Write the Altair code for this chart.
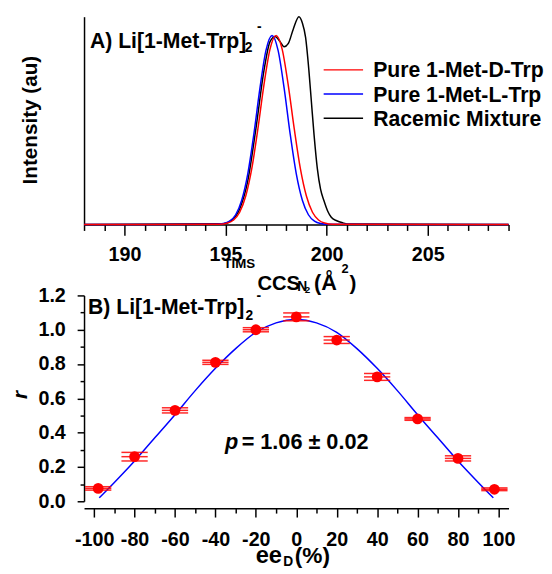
import altair as alt
import pandas as pd

# ---------------- Panel A: mobility spectra ----------------
ccs_D = [188, 194.7, 195.1, 195.4, 195.7, 196.0, 196.3, 196.6, 196.9, 197.2, 197.5, 197.8, 198.1,
         198.4, 198.7, 199.0, 199.3, 199.6, 199.9, 200.3, 209]
int_D = [0, 0.001, 0.007, 0.022, 0.059, 0.137, 0.270, 0.460, 0.672, 0.844, 0.91, 0.844, 0.672,
         0.460, 0.270, 0.137, 0.059, 0.022, 0.007, 0.001, 0]

ccs_L = [188, 194.5, 194.9, 195.2, 195.5, 195.8, 196.1, 196.4, 196.7, 197.0, 197.3, 197.6, 197.9,
         198.2, 198.5, 198.8, 199.1, 199.4, 199.7, 200.1, 209]
int_L = [0, 0.001, 0.005, 0.016, 0.047, 0.117, 0.244, 0.434, 0.655, 0.838, 0.91, 0.838, 0.655,
         0.434, 0.244, 0.117, 0.047, 0.016, 0.005, 0.001, 0]

ccs_rac = [188, 194.9, 195.3, 195.7, 196.1, 196.5, 196.9, 197.2, 197.45, 197.7, 197.9, 198.1, 198.35,
           198.63, 198.8, 198.96, 199.12, 199.25, 199.38, 199.54, 199.7, 199.87, 200.05, 200.23,
           200.5, 200.8, 201.15, 209]
int_rac = [0, 0.004, 0.02, 0.075, 0.21, 0.46, 0.74, 0.88, 0.905, 0.88, 0.855, 0.87, 0.94,
           1.0, 0.97, 0.90, 0.745, 0.587, 0.43, 0.27, 0.17, 0.114, 0.065, 0.035,
           0.018, 0.008, 0.002, 0]

legend_labels = ["Pure 1-Met-D-Trp", "Pure 1-Met-L-Trp", "Racemic Mixture"]
legend_colors = ["#ff0000", "#0000ff", "#000000"]

# ---------------- Panel B: r vs ee ----------------
ee_pts = [-98, -80, -60, -40, -20, 0, 20, 40, 60, 80, 98]
r_pts = [0.075, 0.26, 0.53, 0.81, 1.00, 1.075, 0.94, 0.725, 0.48, 0.25, 0.07]
r_err = [0.01, 0.025, 0.015, 0.012, 0.012, 0.023, 0.02, 0.02, 0.008, 0.015, 0.008]
ee_err = [6.5, 6.5, 6.5, 6.5, 6.5, 6.5, 6.5, 6.5, 6.5, 6.5, 6.5]

ee_fit = [-97.5, -90, -80, -70, -60, -50, -40, -30, -20, -10, 0, 10, 20, 30, 40, 50, 60, 70, 80, 90, 97.5]
r_fit = [0.02, 0.11, 0.235, 0.37, 0.505, 0.645, 0.775, 0.89, 0.985, 1.04, 1.06, 1.04, 0.985, 0.89,
         0.775, 0.645, 0.505, 0.37, 0.235, 0.11, 0.02]

x_ticks_A = list(range(188, 210))
x_ticks_B = list(range(-100, 101, 10))
y_ticks_B = [0.0, 0.1, 0.2, 0.3, 0.4, 0.5, 0.6, 0.7, 0.8, 0.9, 1.0, 1.1, 1.2]

FONT = "Liberation Sans"
W = 431
HA = 211
HB = 209
RED = "#ff0000"
BLUE = "#0000ff"

# ---------- helpers ----------
def txt(text, x, y, size, align="left", baseline="alphabetic", angle=None, style="normal"):
    kw = dict(align=align, baseline=baseline, font=FONT, fontSize=size,
              fontWeight="bold", fontStyle=style, color="black")
    if angle is not None:
        kw["angle"] = angle
    return alt.Chart(pd.DataFrame({"t": [text]})).mark_text(**kw).encode(
        x=alt.value(x), y=alt.value(y), text="t:N")


# ---------- Panel A ----------
scA_x = alt.Scale(domain=[188, 209], nice=False, zero=False)
scA_y = alt.Scale(domain=[0, 1], nice=False, zero=False)
axA_x = alt.Axis(values=x_ticks_A, labelExpr="datum.value % 5 === 0 ? datum.label : ''",
                 tickSize={"condition": {"test": "datum.value % 5 === 0", "value": 11}, "value": 6},
                 labelPadding=10, title=None, grid=False, labelOverlap=False, labelFlush=False)
axA_y = alt.Axis(ticks=False, labels=False, title=None, grid=False)

def curve(xs, ys, color):
    df = pd.DataFrame({"ccs": xs, "inten": ys})
    return alt.Chart(df).mark_line(color=color, strokeWidth=1.5, interpolate="monotone").encode(
        x=alt.X("ccs:Q", scale=scA_x, axis=axA_x),
        y=alt.Y("inten:Q", scale=scA_y, axis=axA_y))

anchor = alt.Chart(pd.DataFrame({"a": [0]})).mark_rule(opacity=0, strokeWidth=1, color="white").encode(
    x=alt.value(-95), x2=alt.value(-95), y=alt.value(-6), y2=alt.value(-5))

legend_layers = []
leg_y = [54, 78.5, 103]
for lab, col, yy in zip(legend_labels, legend_colors, leg_y):
    legend_layers.append(
        alt.Chart(pd.DataFrame({"a": [0]})).mark_rule(color=col, strokeWidth=1.5).encode(
            x=alt.value(243.3), x2=alt.value(283.3), y=alt.value(yy)))
    legend_layers.append(txt(lab, 293.6, yy + 7.7, 21.5))

panelA = alt.layer(
    anchor,
    curve(ccs_rac, int_rac, "#000000"),
    curve(ccs_L, int_L, BLUE),
    curve(ccs_D, int_D, RED),
    *legend_layers,
    txt("A) Li[1-Met-Trp]", 6, 32, 21.5),
    txt("2", 163.2, 35.8, 14),
    txt("-", 175.5, 14.8, 14),
    txt("Intensity (au)", -64.4, 105, 21, align="center", baseline="top", angle=270),
    txt("TIMS", 141.6, 255.3, 13.5),
    txt("CCS", 176, 277, 20.5),
    txt("N", 216.5, 278.7, 14),
    txt("2", 224.2, 281, 10),
    txt("(Å", 233.5, 277, 22),
    txt("2", 261.3, 260, 13),
    txt(")", 269.5, 277, 21),
).properties(width=W, height=HA)

# ---------- Panel B ----------
scB_x = alt.Scale(domain=[-105, 105], nice=False, zero=False)
scB_y = alt.Scale(domain=[0, 1.2], nice=False, zero=False)
axB_x = alt.Axis(values=x_ticks_B,
                 labelExpr="datum.value % 20 === 0 ? toString(datum.value) : ''",
                 tickSize={"condition": {"test": "datum.value % 20 === 0", "value": 9}, "value": 5},
                 labelPadding=13, offset=7, title=None, grid=False, labelOverlap=False, labelFlush=False)
axB_y = alt.Axis(values=y_ticks_B,
                 labelExpr="round(datum.value*10) % 2 === 0 ? format(datum.value, '.1f') : ''",
                 tickSize={"condition": {"test": "round(datum.value*10) % 2 === 0", "value": 7}, "value": 4},
                 labelPadding=12, title=None, grid=False, labelOverlap=False, labelFlush=False)

pts = pd.DataFrame({"ee": ee_pts, "r": r_pts, "rerr": r_err, "eerr": ee_err})
pts["lo"] = pts["ee"] - pts["eerr"]
pts["hi"] = pts["ee"] + pts["eerr"]
pts["rhi"] = pts["r"] + pts["rerr"]
pts["rlo"] = pts["r"] - pts["rerr"]
fit = pd.DataFrame({"ee": ee_fit, "r": r_fit})

def bx(f):
    return alt.X(f, type="quantitative", scale=scB_x, axis=axB_x)

def by(f):
    return alt.Y(f, type="quantitative", scale=scB_y, axis=axB_y)

fit_line = alt.Chart(fit).mark_line(color=BLUE, strokeWidth=1.5, interpolate="monotone").encode(
    x=bx("ee"), y=by("r"))
err_layers = []
for f in ["r", "rhi", "rlo"]:
    err_layers.append(alt.Chart(pts).mark_rule(color=RED, strokeWidth=1.5, opacity=0.85).encode(
        x=bx("lo"), x2="hi", y=by(f)))
dots = alt.Chart(pts).mark_circle(color=RED, size=120, opacity=1).encode(x=bx("ee"), y=by("r"))

panelB = alt.layer(
    fit_line,
    *err_layers,
    dots,
    txt("B) Li[1-Met-Trp]", 4.1, 19.3, 21.5),
    txt("2", 164, 24.8, 14),
    txt("-", 175, 4.8, 14),
    txt("p", 143.2, 156, 22, style="italic"),
    txt("= 1.06 ± 0.02", 160, 156, 22),
    txt("r", -75, 101, 21, align="center", baseline="top", angle=270, style="italic"),
    txt("ee", 174.3, 271.5, 24),
    txt("D", 202.3, 274.5, 14),
    txt("(%)", 214, 271.5, 23),
).properties(width=W, height=HB)

chart = alt.vconcat(panelA, panelB, spacing=72, bounds="flush",
                    padding={"left": -17.8, "top": -1.5, "right": 0, "bottom": 0}
).configure_view(stroke=None).configure_axis(
    domainColor="black", domainWidth=1.5, tickColor="black", tickWidth=1.5,
    labelColor="black", labelFont=FONT, labelFontSize=20, labelFontWeight="bold"
)

chart.save("out.html", embed_options={"renderer": "svg", "actions": False})
